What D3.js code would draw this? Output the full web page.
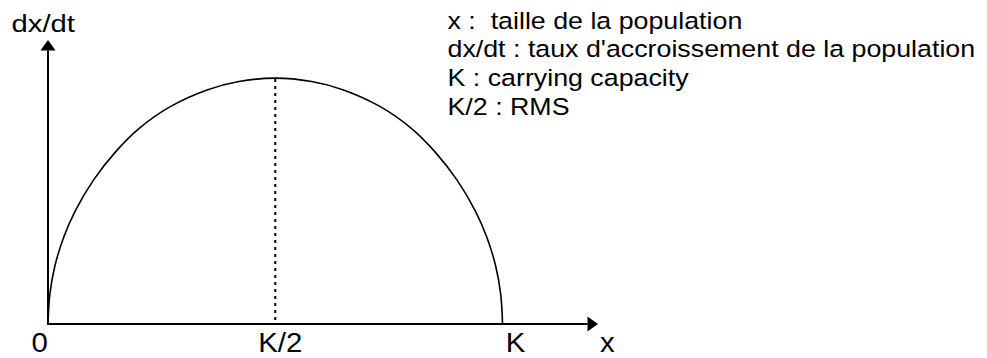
<!DOCTYPE html>
<html>
<head>
<meta charset="utf-8">
<script src="https://cdn.jsdelivr.net/npm/d3@7"></script>
<style>
  html, body { margin: 0; padding: 0; background: #fff; }
  svg { display: block; }
  text { font-family: "Liberation Sans", Arial, sans-serif; fill: #000; white-space: pre; }
</style>
</head>
<body>
<svg id="chart" width="987" height="358"></svg>
<script>
// ---- data (x as fraction of K, y as fraction of maximum growth rate) ----
const curveX = [0, 0.004, 0.015, 0.035, 0.06, 0.1, 0.15, 0.2, 0.27, 0.35, 0.42, 0.5,
                0.58, 0.65, 0.73, 0.8, 0.85, 0.9, 0.94, 0.965, 0.985, 0.996, 1];
const curveY = [0, 0.12, 0.235, 0.355, 0.46, 0.585, 0.703, 0.795, 0.885, 0.952, 0.986, 1,
                0.986, 0.952, 0.885, 0.795, 0.703, 0.585, 0.46, 0.355, 0.235, 0.12, 0];
const tickValues = [0, 0.5, 1];
const tickLabels = ["0", "K/2", "K"];
const msyX = [0.5];
const msyY = [1];
const axisExtentX = [0, 1.21];
const axisExtentY = [0, 1.155];
const xAxisTitle = "x";
const yAxisTitle = "dx/dt";
const legendLines = [
  "x :  taille de la population",
  "dx/dt : taux d'accroissement de la population",
  "K : carrying capacity",
  "K/2 : RMS"
];

// ---- layout ----
const svg = d3.select("#chart");
const x = d3.scaleLinear().domain(axisExtentX).range([48, 598]);
const y = d3.scaleLinear().domain(axisExtentY).range([324, 40]);
const tickDx = [-16.4, -17.0, 3.2];
const tickBaseline = 352;
const tickFont = 28;
const axisStroke = 2;
const headLen = 10.5, headHalf = 7.5;

// curve
const pts = curveX.map((v, i) => [v, curveY[i]]);
const line = d3.line().x(d => x(d[0])).y(d => y(d[1])).curve(d3.curveCatmullRom.alpha(0.5));
svg.append("path").attr("d", line(pts))
  .attr("fill", "none").attr("stroke", "#000").attr("stroke-width", 1.6);

// dotted MSY line
svg.append("line")
  .attr("x1", x(msyX[0])).attr("x2", x(msyX[0]))
  .attr("y1", y(msyY[0]) + 1).attr("y2", y(0))
  .attr("stroke", "#000").attr("stroke-width", 2)
  .attr("stroke-dasharray", "3,4");

// axes
svg.append("line")
  .attr("x1", x(0) - 1).attr("x2", x(axisExtentX[1]) - headLen)
  .attr("y1", y(0)).attr("y2", y(0))
  .attr("stroke", "#000").attr("stroke-width", axisStroke);
svg.append("line")
  .attr("x1", x(0)).attr("x2", x(0))
  .attr("y1", y(0) + 1).attr("y2", y(axisExtentY[1]) + headLen)
  .attr("stroke", "#000").attr("stroke-width", axisStroke);

// arrow heads
const xt = x(axisExtentX[1]), y0 = y(0);
svg.append("path")
  .attr("d", `M${xt},${y0} L${xt - headLen},${y0 - headHalf} L${xt - headLen},${y0 + headHalf} Z`)
  .attr("fill", "#000");
const x0 = x(0), yt = y(axisExtentY[1]);
svg.append("path")
  .attr("d", `M${x0},${yt} L${x0 - headHalf},${yt + headLen} L${x0 + headHalf},${yt + headLen} Z`)
  .attr("fill", "#000");

// tick labels
svg.selectAll("text.tick").data(tickValues).join("text")
  .attr("class", "tick")
  .attr("transform", (d, i) => `translate(${x(d) + tickDx[i]},${tickBaseline}) scale(1.05,1)`)
  .attr("font-size", tickFont)
  .text((d, i) => tickLabels[i]);

// axis titles
svg.append("text")
  .attr("transform", `translate(${xt + 2},${tickBaseline}) scale(1.05,1)`)
  .attr("font-size", tickFont)
  .text(xAxisTitle);

svg.append("text")
  .attr("transform", `translate(11.5,31.5) scale(1.22,1)`)
  .attr("font-size", 24)
  .text(yAxisTitle);

// legend
const lg = svg.append("g");
lg.selectAll("text").data(legendLines).join("text")
  .attr("xml:space", "preserve")
  .attr("transform", (d, i) => `translate(447.5,${28.5 + i * 28.7}) scale(1.15,1)`)
  .attr("font-size", 23.3)
  .text(d => d);
</script>
</body>
</html>
